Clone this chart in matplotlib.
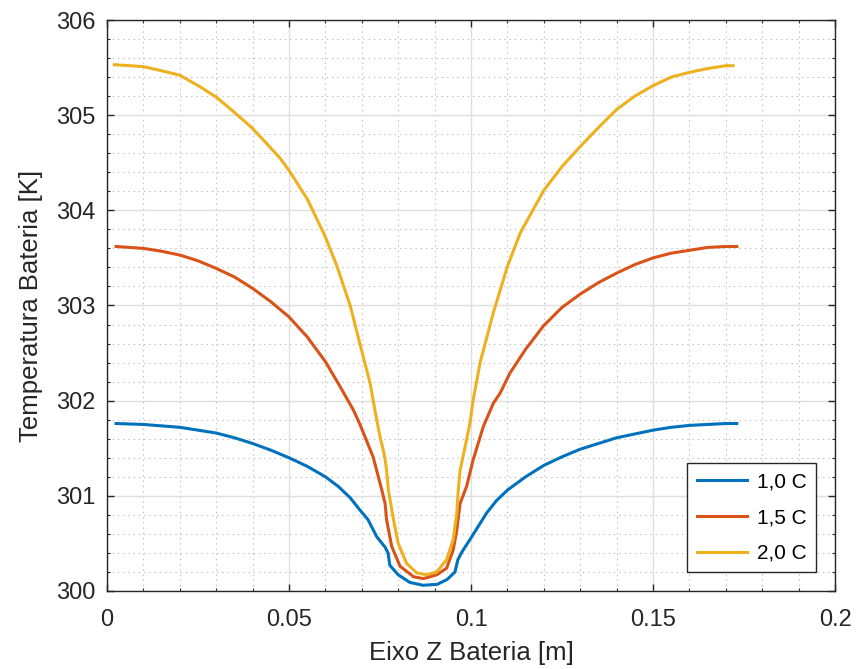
#!/usr/bin/env python3

"""
plot.py

Perfil de temperatura ao longo do eixo Z da bateria para 1,0 C, 1,5 C e 2,0 C
"""

import matplotlib
matplotlib.use('Agg')
import matplotlib.pyplot as plt
from matplotlib.ticker import MultipleLocator

plt.rcParams['font.family'] = ['Liberation Sans', 'DejaVu Sans']

# 1,0 C
z_10 = [0.0025, 0.010, 0.020, 0.030, 0.035, 0.040, 0.045, 0.050, 0.055,
        0.060, 0.0635, 0.0668, 0.0695, 0.0717, 0.0741, 0.0764, 0.0772,
        0.0777, 0.0800, 0.0832, 0.0868, 0.0907, 0.0934, 0.0956, 0.0964,
        0.0975, 0.0997, 0.1043, 0.1070, 0.110, 0.115, 0.120, 0.125, 0.130,
        0.135, 0.140, 0.145, 0.150, 0.155, 0.160, 0.165, 0.170, 0.173]
t_10 = [301.76, 301.75, 301.72, 301.66, 301.61, 301.55, 301.48, 301.40, 301.31,
        301.20, 301.10, 300.98, 300.85, 300.75, 300.57, 300.46, 300.40,
        300.27, 300.17, 300.09, 300.06, 300.07, 300.12, 300.20, 300.33,
        300.41, 300.54, 300.82, 300.95, 301.06, 301.20, 301.32, 301.41, 301.49,
        301.55, 301.61, 301.65, 301.69, 301.72, 301.74, 301.75, 301.76, 301.76]

# 1,5 C
z_15 = [0.0025, 0.010, 0.015, 0.020, 0.025, 0.030, 0.035, 0.040, 0.045,
        0.050, 0.055, 0.060, 0.064, 0.0677, 0.0695, 0.0731, 0.0755, 0.0764,
        0.0768, 0.0782, 0.0805, 0.0842, 0.0869, 0.0906, 0.0933, 0.0951,
        0.0961, 0.0970, 0.0988, 0.1006, 0.1034, 0.1061, 0.1080, 0.1107,
        0.115, 0.120, 0.125, 0.130, 0.135, 0.140, 0.145, 0.150, 0.155,
        0.160, 0.165, 0.170, 0.173]
t_15 = [303.62, 303.60, 303.57, 303.53, 303.47, 303.39, 303.30, 303.18, 303.04,
        302.88, 302.67, 302.41, 302.15, 301.90, 301.75, 301.41, 301.06, 300.92,
        300.75, 300.47, 300.26, 300.15, 300.13, 300.17, 300.24, 300.43,
        300.64, 300.92, 301.10, 301.38, 301.73, 301.97, 302.08, 302.29,
        302.54, 302.79, 302.98, 303.12, 303.24, 303.34, 303.43, 303.50, 303.55,
        303.58, 303.61, 303.62, 303.62]

# 2,0 C
z_20 = [0.0020, 0.0063, 0.010, 0.0146, 0.020, 0.0255, 0.030, 0.0347, 0.040,
        0.0439, 0.0475, 0.050, 0.055, 0.060, 0.0631, 0.0668, 0.070, 0.0723,
        0.0736, 0.0750, 0.0759, 0.0764, 0.0768, 0.0773, 0.0787, 0.0800,
        0.0823, 0.0851, 0.0878, 0.0906, 0.0933, 0.0951, 0.0961, 0.0965,
        0.0970, 0.0984, 0.0997, 0.1006, 0.1025, 0.1061, 0.110, 0.1135, 0.120,
        0.125, 0.130, 0.135, 0.140, 0.145, 0.150, 0.155, 0.160, 0.165, 0.170,
        0.172]
t_20 = [305.53, 305.52, 305.51, 305.47, 305.42, 305.30, 305.19, 305.04, 304.86,
        304.70, 304.55, 304.42, 304.12, 303.72, 303.42, 303.00, 302.52, 302.18,
        301.90, 301.62, 301.48, 301.38, 301.27, 301.06, 300.75, 300.50,
        300.29, 300.19, 300.17, 300.20, 300.33, 300.54, 300.82, 301.06,
        301.27, 301.52, 301.76, 302.01, 302.40, 302.92, 303.41, 303.76, 304.21,
        304.46, 304.67, 304.87, 305.06, 305.20, 305.31, 305.40, 305.45, 305.49,
        305.52, 305.52]

labels = ['1,0 C', '1,5 C', '2,0 C']
colors = ['#0072BD', '#D95319', '#EDB120']

fig = plt.figure(figsize=(8.56, 6.69), dpi=100)
ax = fig.add_axes([0.125, 0.1166, 0.8505, 0.8535])

for z, t, lab, c in zip([z_10, z_15, z_20], [t_10, t_15, t_20], labels, colors):
    ax.plot(z, t, color=c, lw=2.2, label=lab, solid_joinstyle='round')

ax.set_xlim(0, 0.2)
ax.set_ylim(300, 306)
ax.set_xticks([0, 0.05, 0.1, 0.15, 0.2])
ax.set_xticklabels(['0', '0.05', '0.1', '0.15', '0.2'])
ax.xaxis.set_minor_locator(MultipleLocator(0.01))
ax.yaxis.set_major_locator(MultipleLocator(1))
ax.yaxis.set_minor_locator(MultipleLocator(0.2))

ax.grid(which='major', color='#DFDFDF', lw=1.0, ls='-')
ax.grid(which='minor', color='#BDBDBD', lw=0.8, ls=(0, (1.2, 3.5)))
ax.set_axisbelow(True)

ax.tick_params(which='both', direction='in', top=True, right=True,
               colors='#262626', labelsize=17)
ax.tick_params(which='major', length=5, width=1.0)
ax.tick_params(which='minor', length=2.5, width=0.8)
ax.tick_params(axis='y', which='major', pad=8.5)
ax.tick_params(axis='x', which='major', pad=13)
for s in ax.spines.values():
    s.set_color('#262626')
    s.set_linewidth(1.0)

ax.set_xlabel('Eixo Z Bateria [m]', fontsize=18.5, color='#262626', labelpad=7)
ax.set_ylabel('Temperatura Bateria [K]', fontsize=18.5, color='#262626', labelpad=9)

leg = ax.legend(loc='lower right', fontsize=15, frameon=True, fancybox=False,
                edgecolor='#262626', framealpha=1, borderaxespad=0.9,
                handlelength=2.4, handletextpad=0.5, labelspacing=0.8,
                borderpad=0.45)
leg.get_frame().set_linewidth(1.0)

fig.savefig('out.png', dpi=100)
